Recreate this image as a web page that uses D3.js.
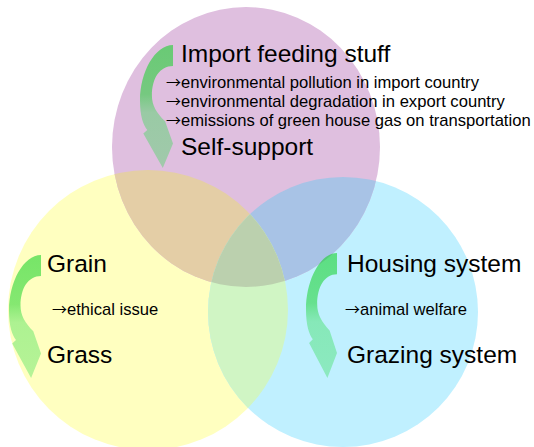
<!DOCTYPE html>
<html>
<head>
<meta charset="utf-8">
<script src="https://cdn.jsdelivr.net/npm/d3@7"></script>
<style>
    html, body { margin: 0; padding: 0; background: #ffffff; }
    svg { display: block; font-family: "Liberation Sans", Arial, sans-serif; }
</style>
</head>
<body>
<svg id="chart" width="534" height="447"></svg>
<script>
// the three circles of the diagram, and what moves inside each one
const setNames = ['feed', 'feeding', 'housing'];
const fromLabels = ['Import feeding stuff', 'Grain', 'Housing system'];
const toLabels = ['Self-support', 'Grass', 'Grazing system'];
const issueNotes = [
    ['environmental pollution in import country',
     'environmental degradation in export country',
     'emissions of green house gas on transportation'],
    ['ethical issue'],
    ['animal welfare']
];

const svg = d3.select('#chart');

// layout of the venn in pixels
const circles = {
    feed:    { cx: 246, cy: 147, rx: 134, ry: 140, fill: '#dfbfdf' },
    feeding: { cx: 148, cy: 310, rx: 140, ry: 140, fill: '#ffffc0' },
    housing: { cx: 343, cy: 312, rx: 135, ry: 135, fill: '#c0f0ff' }
};
const overlapFill = {
    'feed|feeding': '#e4cea6',
    'feed|housing': '#a8c3e6',
    'feeding|housing': '#d0f5c4',
    all: '#bbd0ae'
};
const blocks = [
    { arrow: [140, 45, 33, 123], textX: 181, fromY: 62, noteX: 166, noteY: 88, noteStep: 19, toY: 155 },
    { arrow: [9, 255, 32, 123], textX: 47, fromY: 272, noteX: 52, noteY: 315, noteStep: 19, toY: 363 },
    { arrow: [306, 253, 31, 125], textX: 347, fromY: 272, noteX: 345, noteY: 315, noteStep: 19, toY: 363 }
];

const defs = svg.append('defs');

setNames.forEach(name => {
    const c = circles[name];
    defs.append('clipPath')
        .attr('id', `clip-${name}`)
        .append('ellipse')
        .attr('cx', c.cx).attr('cy', c.cy)
        .attr('rx', c.rx).attr('ry', c.ry);
});

const grad = defs.append('linearGradient')
    .attr('id', 'arrow-grad')
    .attr('x1', 0).attr('y1', 0)
    .attr('x2', 0).attr('y2', 1);
[
    { offset: 0, color: 'rgb(20,210,40)', op: 0.58 },
    { offset: 0.4, color: 'rgb(20,210,40)', op: 0.52 },
    { offset: 0.55, color: 'rgb(40,220,70)', op: 0.38 },
    { offset: 1, color: 'rgb(40,220,70)', op: 0.34 }
].forEach(s => {
    grad.append('stop')
        .attr('offset', s.offset)
        .attr('stop-color', s.color)
        .attr('stop-opacity', s.op);
});

const ellipse = (sel, name) => {
    const c = circles[name];
    return sel.append('ellipse')
        .attr('cx', c.cx).attr('cy', c.cy)
        .attr('rx', c.rx).attr('ry', c.ry);
};

// plain circles
const venn = svg.append('g').attr('class', 'venn');
['feeding', 'housing', 'feed'].forEach(name => {
    ellipse(venn, name).attr('fill', circles[name].fill);
});

// pair overlaps
[['feeding', 'feed'], ['housing', 'feed'], ['housing', 'feeding']].forEach(([a, b]) => {
    const key = [b, a].join('|');
    ellipse(venn, a)
        .attr('clip-path', `url(#clip-${b})`)
        .attr('fill', overlapFill[key]);
});

// middle part
ellipse(venn.append('g').attr('clip-path', 'url(#clip-feed)'), 'housing')
    .attr('clip-path', 'url(#clip-feeding)')
    .attr('fill', overlapFill.all);

// curved arrow in a box, points given on a 0..1 grid
function curvedArrow(x0, y0, w, h) {
    const sx = d3.scaleLinear().range([x0, x0 + w]);
    const sy = d3.scaleLinear().range([y0, y0 + h]);
    const p = (u, v) => `${sx(u).toFixed(1)},${sy(v).toFixed(1)}`;
    return `M${p(1, 0)}`
        + `C${p(0.45, 0)} ${p(0, 0.22)} ${p(0, 0.45)}`
        + `C${p(0, 0.58)} ${p(0.1, 0.65)} ${p(0.22, 0.69)}`
        + `L${p(0.1, 0.72)}`
        + `L${p(0.69, 1)}`
        + `L${p(1, 0.8)}`
        + `L${p(0.76, 0.62)}`
        + `C${p(0.5, 0.55)} ${p(0.36, 0.49)} ${p(0.36, 0.41)}`
        + `C${p(0.36, 0.27)} ${p(0.6, 0.17)} ${p(1, 0.17)}`
        + 'Z';
}

const groups = svg.selectAll('g.block')
    .data(blocks)
    .enter()
    .append('g')
    .attr('class', 'block');

groups.append('path')
    .attr('d', d => curvedArrow(...d.arrow))
    .attr('fill', 'url(#arrow-grad)');

groups.append('text')
    .attr('x', d => d.textX)
    .attr('y', d => d.fromY)
    .attr('font-size', 24.5)
    .attr('fill', '#000')
    .text((d, i) => fromLabels[i]);

groups.append('text')
    .attr('x', d => d.textX)
    .attr('y', d => d.toY)
    .attr('font-size', 24.5)
    .attr('fill', '#000')
    .text((d, i) => toLabels[i]);

groups.each(function(d, i) {
    const notes = d3.select(this)
        .selectAll('text.note')
        .data(issueNotes[i])
        .enter()
        .append('text')
        .attr('class', 'note')
        .attr('x', d.noteX)
        .attr('y', (n, j) => d.noteY + j * d.noteStep)
        .attr('font-size', 16.6)
        .attr('fill', '#000');

    notes.append('tspan')
        .attr('font-family', '"Noto Sans CJK JP", "DejaVu Sans", sans-serif')
        .attr('font-size', 15)
        .text('\u2192');

    notes.append('tspan')
        .text(n => n);
});
</script>
</body>
</html>
